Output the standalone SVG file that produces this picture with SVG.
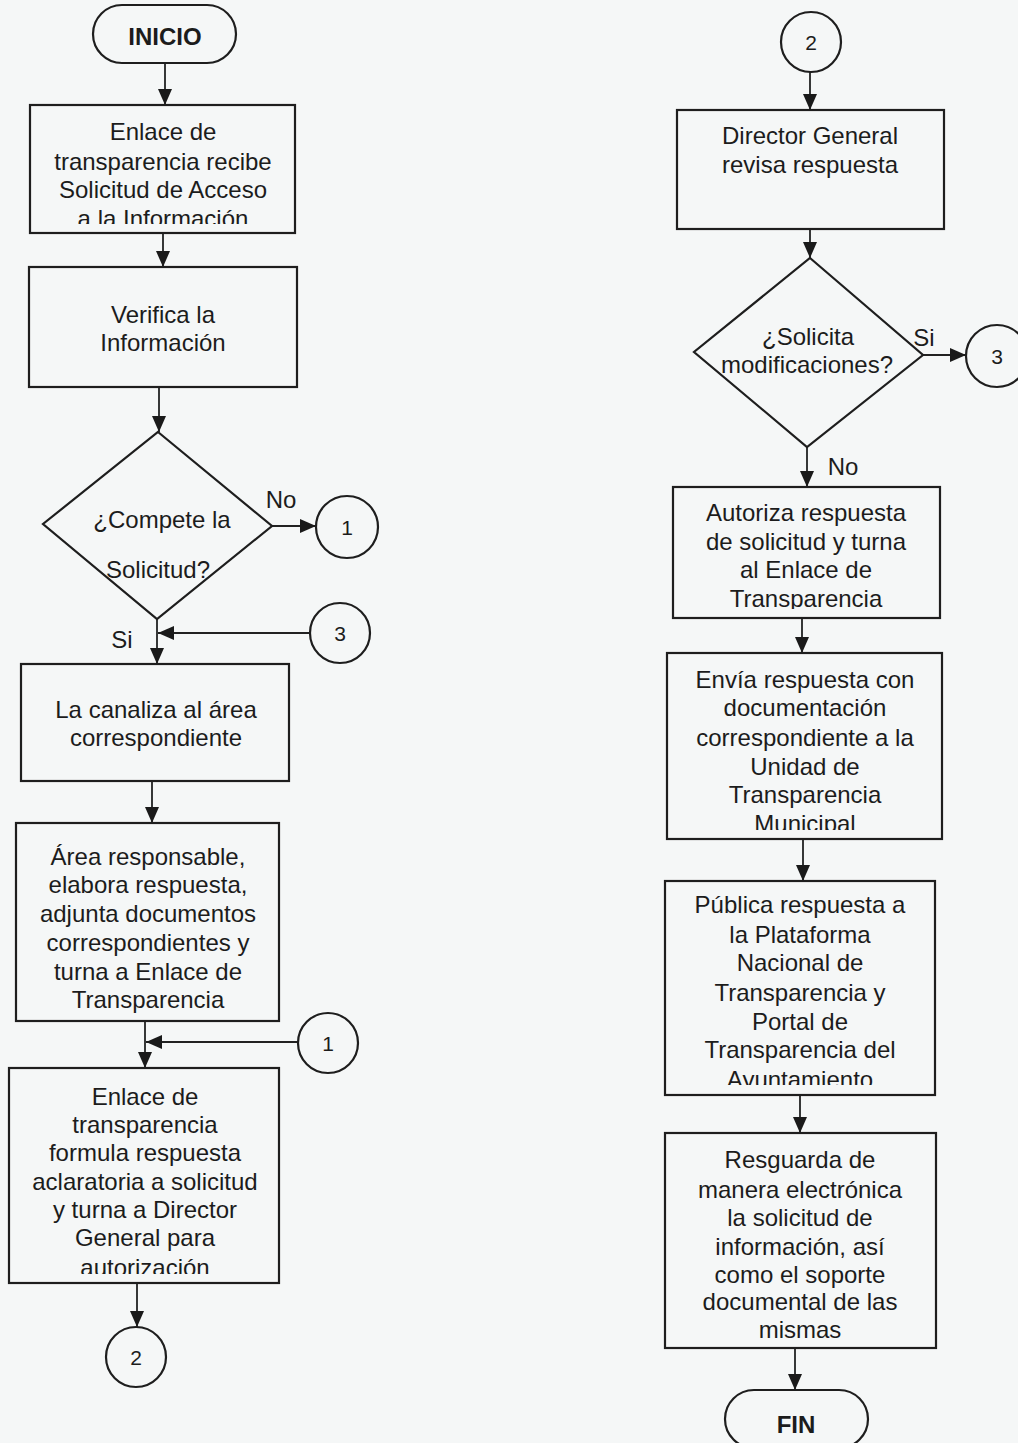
<svg xmlns="http://www.w3.org/2000/svg" width="1018" height="1443" viewBox="0 0 1018 1443">
  <style>
    .shape { fill: none; stroke: #1e1e1e; stroke-width: 2.2; }
    .t { font-family: "Liberation Sans", Arial, sans-serif; font-size: 24px; fill: #1c1c1c; text-anchor: middle; }
    .b { font-weight: bold; }
    .n { font-size: 21px; }
    .conn line { stroke: #222; stroke-width: 1.8; }
  </style>
  <defs>
    <marker id="arrow" markerUnits="userSpaceOnUse" markerWidth="16" markerHeight="14" refX="16" refY="7" orient="auto">
      <path d="M0,0 L16,7 L0,14 Z" fill="#1a1a1a"/>
    </marker>
    <!-- text areas of the process boxes (overflowing lines are cut) -->
    <clipPath id="c-recibe"><rect x="30" y="105" width="265" height="119"/></clipPath>
    <clipPath id="c-aclara"><rect x="9" y="1068" width="270" height="206"/></clipPath>
    <clipPath id="c-autoriza"><rect x="673" y="487" width="267" height="122"/></clipPath>
    <clipPath id="c-envia"><rect x="667" y="653" width="275" height="177"/></clipPath>
    <clipPath id="c-publica"><rect x="665" y="881" width="270" height="204"/></clipPath>
  </defs>

  <rect x="0" y="0" width="1018" height="1443" fill="#f5f7f7"/>

  <!-- connectors -->
  <g id="connectors" class="conn">
    <line x1="165" y1="63" x2="165" y2="105" marker-end="url(#arrow)"/>
    <line x1="163" y1="233" x2="163" y2="267" marker-end="url(#arrow)"/>
    <line x1="159" y1="387" x2="159" y2="432" marker-end="url(#arrow)"/>
    <line x1="272" y1="526" x2="316" y2="526" marker-end="url(#arrow)"/>
    <line x1="157" y1="619" x2="157" y2="664" marker-end="url(#arrow)"/>
    <line x1="310" y1="633" x2="158" y2="633" marker-end="url(#arrow)"/>
    <line x1="152" y1="781" x2="152" y2="823" marker-end="url(#arrow)"/>
    <line x1="145" y1="1021" x2="145" y2="1068" marker-end="url(#arrow)"/>
    <line x1="298" y1="1042" x2="146" y2="1042" marker-end="url(#arrow)"/>
    <line x1="137" y1="1283" x2="137" y2="1327" marker-end="url(#arrow)"/>

    <line x1="810" y1="72" x2="810" y2="110" marker-end="url(#arrow)"/>
    <line x1="810" y1="229" x2="810" y2="258" marker-end="url(#arrow)"/>
    <line x1="923" y1="355" x2="966" y2="355" marker-end="url(#arrow)"/>
    <line x1="807" y1="447" x2="807" y2="487" marker-end="url(#arrow)"/>
    <line x1="802" y1="618" x2="802" y2="653" marker-end="url(#arrow)"/>
    <line x1="803" y1="839" x2="803" y2="881" marker-end="url(#arrow)"/>
    <line x1="800" y1="1095" x2="800" y2="1133" marker-end="url(#arrow)"/>
    <line x1="795" y1="1348" x2="795" y2="1390" marker-end="url(#arrow)"/>
  </g>

  <!-- branch labels -->
  <g id="labels">
    <text class="t" x="281" y="508">No</text>
    <text class="t" x="122" y="648">Si</text>
    <text class="t" x="924" y="346">Si</text>
    <text class="t" x="843" y="475">No</text>
  </g>

  <!-- left column -->
  <g id="inicio">
    <rect class="shape" x="93" y="5" width="143" height="58" rx="29" ry="29"/>
    <text class="t b" x="165" y="45">INICIO</text>
  </g>

  <g id="recibe-solicitud">
    <rect class="shape" x="30" y="105" width="265" height="128"/>
    <g clip-path="url(#c-recibe)">
      <text class="t" x="163" y="140">Enlace de</text>
      <text class="t" x="163" y="170">transparencia recibe</text>
      <text class="t" x="163" y="198">Solicitud de Acceso</text>
      <text class="t" x="163" y="227">a la Información</text>
    </g>
  </g>

  <g id="verifica">
    <rect class="shape" x="29" y="267" width="268" height="120"/>
    <text class="t" x="163" y="323">Verifica la</text>
    <text class="t" x="163" y="351">Información</text>
  </g>

  <g id="compete">
    <polygon class="shape" points="158,432 272,526 157,619 43,524"/>
    <text class="t" x="162" y="528">¿Compete la</text>
    <text class="t" x="158" y="578">Solicitud?</text>
  </g>

  <g id="conector-1-salida">
    <circle class="shape" cx="347" cy="527" r="31"/>
    <text class="t n" x="347" y="535">1</text>
  </g>

  <g id="conector-3-entrada">
    <circle class="shape" cx="340" cy="633" r="30"/>
    <text class="t n" x="340" y="641">3</text>
  </g>

  <g id="canaliza">
    <rect class="shape" x="21" y="664" width="268" height="117"/>
    <text class="t" x="156" y="718">La canaliza al área</text>
    <text class="t" x="156" y="746">correspondiente</text>
  </g>

  <g id="area-responsable">
    <rect class="shape" x="16" y="823" width="263" height="198"/>
    <text class="t" x="148" y="865">Área responsable,</text>
    <text class="t" x="148" y="893">elabora respuesta,</text>
    <text class="t" x="148" y="922">adjunta documentos</text>
    <text class="t" x="148" y="951">correspondientes y</text>
    <text class="t" x="148" y="980">turna a Enlace de</text>
    <text class="t" x="148" y="1008">Transparencia</text>
  </g>

  <g id="conector-1-entrada">
    <circle class="shape" cx="328" cy="1043" r="30"/>
    <text class="t n" x="328" y="1051">1</text>
  </g>

  <g id="formula-respuesta">
    <rect class="shape" x="9" y="1068" width="270" height="215"/>
    <g clip-path="url(#c-aclara)">
      <text class="t" x="145" y="1105">Enlace de</text>
      <text class="t" x="145" y="1133">transparencia</text>
      <text class="t" x="145" y="1161">formula respuesta</text>
      <text class="t" x="145" y="1190">aclaratoria a solicitud</text>
      <text class="t" x="145" y="1218">y turna a Director</text>
      <text class="t" x="145" y="1246">General para</text>
      <text class="t" x="145" y="1276">autorización</text>
    </g>
  </g>

  <g id="conector-2-salida">
    <circle class="shape" cx="136" cy="1357" r="30"/>
    <text class="t n" x="136" y="1365">2</text>
  </g>

  <!-- right column -->
  <g id="conector-2-entrada">
    <circle class="shape" cx="811" cy="42" r="30"/>
    <text class="t n" x="811" y="50">2</text>
  </g>

  <g id="director-revisa">
    <rect class="shape" x="677" y="110" width="267" height="119"/>
    <text class="t" x="810" y="144">Director General</text>
    <text class="t" x="810" y="173">revisa respuesta</text>
  </g>

  <g id="solicita-modificaciones">
    <polygon class="shape" points="810,258 923,355 807,447 694,352"/>
    <text class="t" x="808" y="345">¿Solicita</text>
    <text class="t" x="807" y="373">modificaciones?</text>
  </g>

  <g id="conector-3-salida">
    <circle class="shape" cx="997" cy="356" r="31"/>
    <text class="t n" x="997" y="364">3</text>
  </g>

  <g id="autoriza">
    <rect class="shape" x="673" y="487" width="267" height="131"/>
    <g clip-path="url(#c-autoriza)">
      <text class="t" x="806" y="521">Autoriza respuesta</text>
      <text class="t" x="806" y="550">de solicitud y turna</text>
      <text class="t" x="806" y="578">al Enlace de</text>
      <text class="t" x="806" y="607">Transparencia</text>
    </g>
  </g>

  <g id="envia-respuesta">
    <rect class="shape" x="667" y="653" width="275" height="186"/>
    <g clip-path="url(#c-envia)">
      <text class="t" x="805" y="688">Envía respuesta con</text>
      <text class="t" x="805" y="716">documentación</text>
      <text class="t" x="805" y="746">correspondiente a la</text>
      <text class="t" x="805" y="775">Unidad de</text>
      <text class="t" x="805" y="803">Transparencia</text>
      <text class="t" x="805" y="832">Municipal</text>
    </g>
  </g>

  <g id="publica-respuesta">
    <rect class="shape" x="665" y="881" width="270" height="214"/>
    <g clip-path="url(#c-publica)">
      <text class="t" x="800" y="913">Pública respuesta a</text>
      <text class="t" x="800" y="943">la Plataforma</text>
      <text class="t" x="800" y="971">Nacional de</text>
      <text class="t" x="800" y="1001">Transparencia y</text>
      <text class="t" x="800" y="1030">Portal de</text>
      <text class="t" x="800" y="1058">Transparencia del</text>
      <text class="t" x="800" y="1088">Ayuntamiento</text>
    </g>
  </g>

  <g id="resguarda">
    <rect class="shape" x="665" y="1133" width="271" height="215"/>
    <text class="t" x="800" y="1168">Resguarda de</text>
    <text class="t" x="800" y="1198">manera electrónica</text>
    <text class="t" x="800" y="1226">la solicitud de</text>
    <text class="t" x="800" y="1255">información, así</text>
    <text class="t" x="800" y="1283">como el soporte</text>
    <text class="t" x="800" y="1310">documental de las</text>
    <text class="t" x="800" y="1338">mismas</text>
  </g>

  <g id="fin">
    <rect class="shape" x="725" y="1390" width="143" height="58" rx="29" ry="29"/>
    <text class="t b" x="796" y="1433">FIN</text>
  </g>
</svg>
